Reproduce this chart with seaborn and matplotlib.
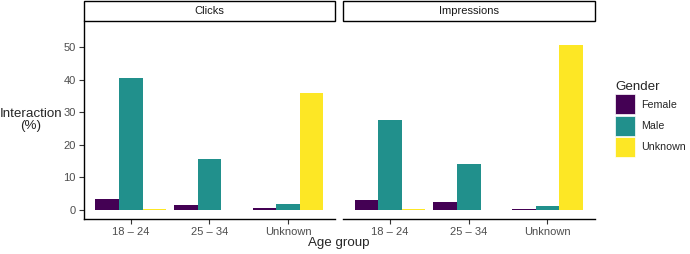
import seaborn as sns
import matplotlib.pyplot as plt
import pandas as pd
from matplotlib.patches import Patch, Rectangle

age_groups = ["18 \u2013 24", "25 \u2013 34", "Unknown"]
genders = ["Female", "Male", "Unknown"]
clicks = {
    "Female": [3.3, 1.5, 0.7],
    "Male": [40.4, 15.5, 1.8],
    "Unknown": [0.3, 0.1, 35.9],
}
impressions = {
    "Female": [3.1, 2.5, 0.3],
    "Male": [27.6, 14.1, 1.3],
    "Unknown": [0.2, 0.1, 50.6],
}
colors = ["#440154", "#21908C", "#FDE725"]

rows = []
for metric, vals in [("Clicks", clicks), ("Impressions", impressions)]:
    for g in genders:
        for a, v in zip(age_groups, vals[g]):
            rows.append({"metric": metric, "age": a, "gender": g, "value": v})
df = pd.DataFrame(rows)

sns.set_style("white")
plt.rcParams["font.family"] = ["Liberation Sans", "DejaVu Sans"]

W, H = 690, 254
fig = plt.figure(figsize=(6.9, 2.54), dpi=100)

panels = [("Clicks", 83.5), ("Impressions", 342.8)]
top_px, bot_px, pw = 21, 219, 251.8
for i, (metric, x0) in enumerate(panels):
    ax = fig.add_axes([x0 / W, 1 - bot_px / H, pw / W, (bot_px - top_px) / H])
    sub = df[df["metric"] == metric]
    sns.barplot(data=sub, x="age", y="value", hue="gender", order=age_groups,
                hue_order=genders, palette=colors, width=0.9, linewidth=0,
                saturation=1, ax=ax, legend=False)
    ax.set_xlim(-0.6, 2.6)
    ax.set_ylim(-2.76, 58)
    ax.set_xlabel("")
    ax.set_ylabel("")
    for s in ["top", "right"]:
        ax.spines[s].set_visible(False)
    ax.spines["bottom"].set_color("black")
    ax.spines["bottom"].set_linewidth(1.0)
    ax.tick_params(axis="x", length=3.5, width=0.8, color="#333333",
                   labelcolor="#4D4D4D", labelsize=8, pad=2, bottom=True)
    if i == 0:
        ax.spines["left"].set_color("black")
        ax.spines["left"].set_linewidth(1.0)
        ax.set_yticks([0, 10, 20, 30, 40, 50])
        ax.tick_params(axis="y", length=3.5, width=0.8, color="#333333",
                       labelcolor="#4D4D4D", labelsize=8, pad=2, left=True)
    else:
        ax.spines["left"].set_visible(False)
        ax.set_yticks([])
    # strip
    fig.patches.append(Rectangle((x0 / W, 1 - 20.5 / H), pw / W, 20 / H,
                                 transform=fig.transFigure, facecolor="white",
                                 edgecolor="black", linewidth=1.0))
    fig.text((x0 + pw / 2) / W, 1 - 10.5 / H, metric, ha="center", va="center",
             fontsize=8, color="#1A1A1A")

fig.text(31 / W, 1 - 120 / H, "Interaction\n(%)", ha="center", va="center",
         fontsize=9.6, linespacing=1.1)
fig.text(339 / W, 1 - 243 / H, "Age group", ha="center", va="center",
         fontsize=9.6)

handles = [Patch(facecolor=c, edgecolor="white", linewidth=0.5) for c in colors]
fig.legend(handles, genders, title="Gender", loc="upper left",
           bbox_to_anchor=(615 / W, 1 - 81 / H), frameon=False, borderpad=0,
           borderaxespad=0, fontsize=7.7, title_fontsize=9.6,
           handlelength=1.9, handleheight=2.5, labelspacing=0.12,
           handletextpad=0.5, alignment="left")

plt.savefig("out.png", dpi=100)
